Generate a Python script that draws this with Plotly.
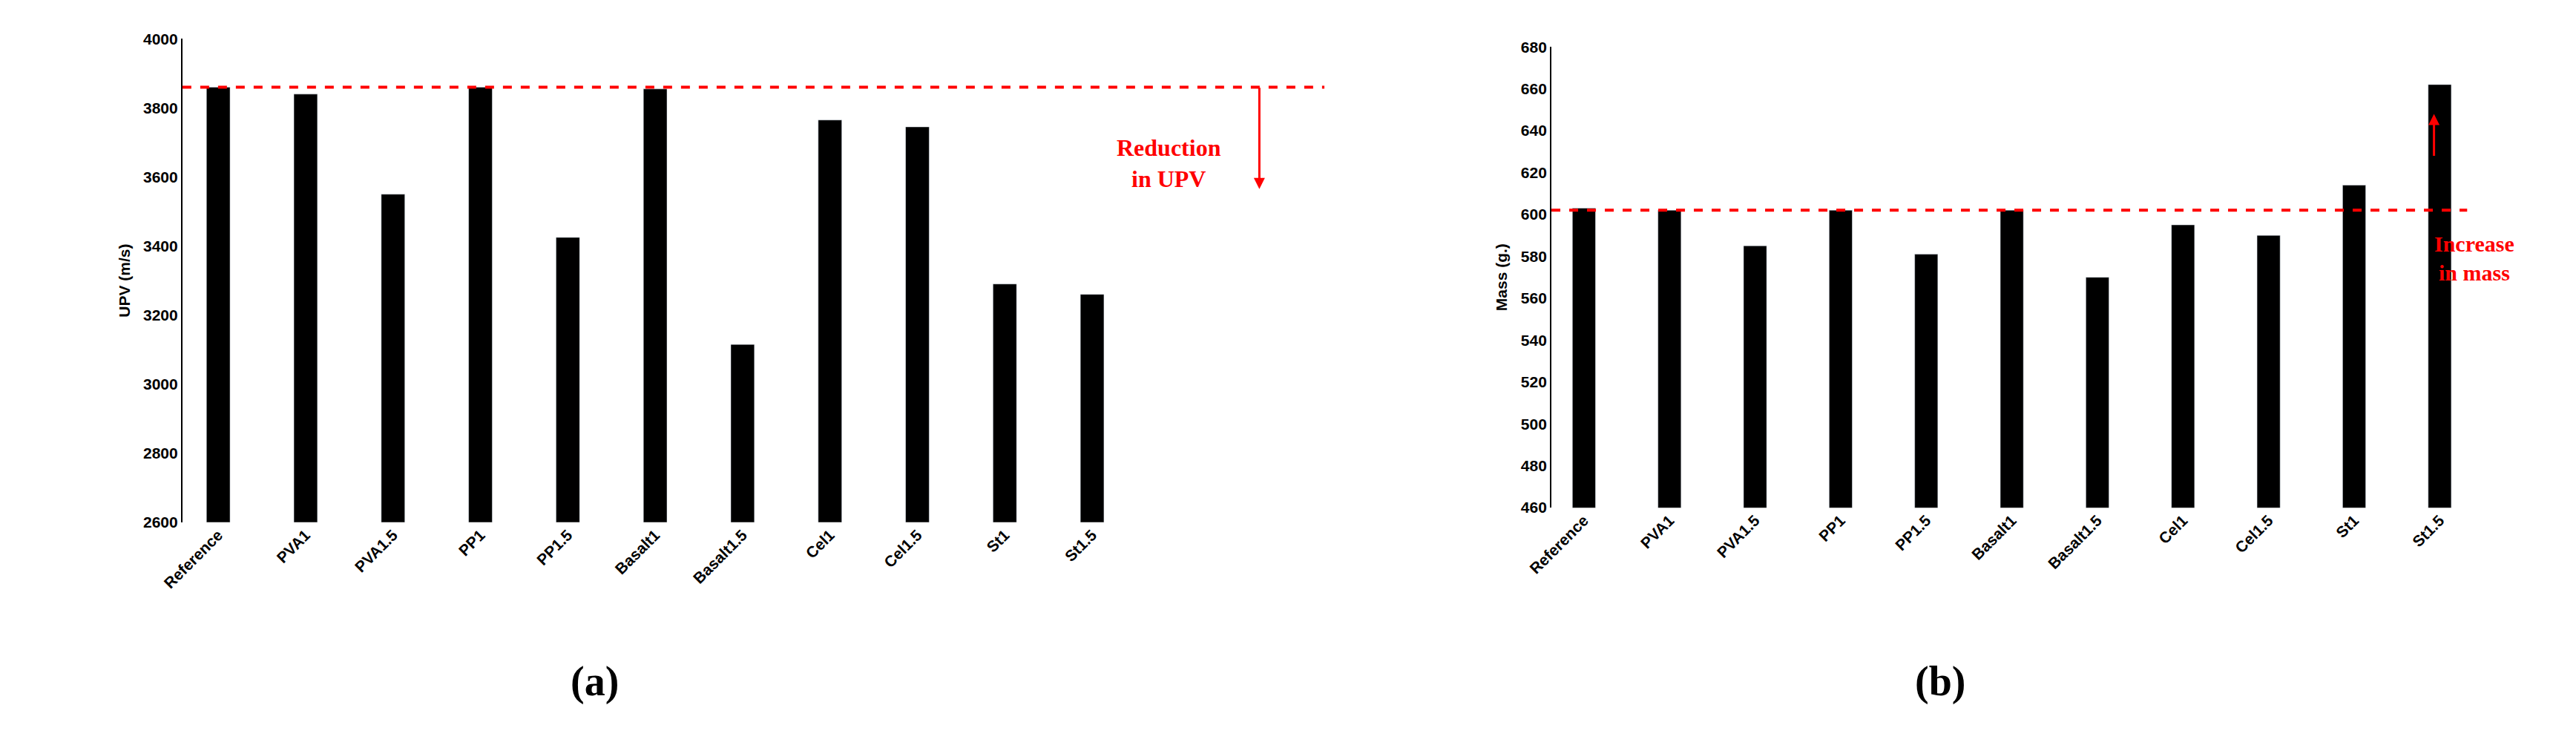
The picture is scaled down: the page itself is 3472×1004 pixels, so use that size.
import plotly.graph_objects as go

cats = ["Reference","PVA1","PVA1.5","PP1","PP1.5","Basalt1","Basalt1.5","Cel1","Cel1.5","St1","St1.5"]
upv = [3860,3840,3550,3860,3425,3855,3115,3765,3745,3290,3260]
mass = [603,602,585,602,581,602,570,595,590,614,662]
upv_ref = 3860
mass_ref = 602

fig = go.Figure()
fig.add_bar(x=cats, y=upv, marker=dict(color="black"), width=0.27, xaxis="x", yaxis="y")
fig.add_bar(x=cats, y=mass, marker=dict(color="black"), width=0.27, xaxis="x2", yaxis="y2")

tickf = dict(family="Liberation Sans", size=21, color="black")
fig.update_layout(
    width=3472, height=1004, margin=dict(l=0, r=0, t=0, b=0),
    plot_bgcolor="white", paper_bgcolor="white", showlegend=False,
    xaxis=dict(domain=[0.0593, 0.430], range=[-0.41, 10.41], tickangle=-45,
               tickfont=tickf, showline=False, ticks=""),
    yaxis=dict(domain=[0.303, 0.967], range=[2600, 4000], dtick=200, showgrid=False,
               showline=True, linecolor="black", linewidth=2, tickfont=tickf,
               title=dict(text="<b>UPV (m/s)</b>", font=tickf, standoff=12)),
    xaxis2=dict(domain=[0.596, 0.957], range=[-0.38, 10.38], tickangle=-45, anchor="y2",
                tickfont=tickf, showline=False, ticks=""),
    yaxis2=dict(domain=[0.323, 0.956], range=[460, 680], dtick=20, showgrid=False, anchor="x2",
                showline=True, linecolor="black", linewidth=2, tickfont=tickf,
                title=dict(text="<b>Mass (g.)</b>", font=tickf, standoff=12)),
)
fig.update_xaxes(tickprefix="<b>", ticksuffix="</b>")
fig.update_yaxes(tickprefix="<b>", ticksuffix="</b>")

fig.add_shape(type="line", xref="paper", yref="y", x0=0.0593, x1=0.507, y0=upv_ref, y1=upv_ref,
              line=dict(color="red", width=4, dash="dash"))
fig.add_shape(type="line", xref="paper", yref="y2", x0=0.596, x1=0.955, y0=mass_ref, y1=mass_ref,
              line=dict(color="red", width=4, dash="dash"))

red = dict(family="Liberation Serif", size=32, color="red")
fig.add_annotation(xref="paper", yref="y", x=0.4815, y=3565, ax=0, ay=-138, axref="pixel", ayref="pixel",
                   showarrow=True, arrowhead=2, arrowsize=1, arrowwidth=3, arrowcolor="red", text="")
fig.add_annotation(xref="paper", yref="y", x=0.446, y=3640, text="<b>Reduction<br>in UPV</b>",
                   showarrow=False, font=red, align="center")
fig.add_annotation(xref="paper", yref="y2", x=0.942, y=648, ax=0, ay=58, axref="pixel", ayref="pixel",
                   showarrow=True, arrowhead=2, arrowsize=1, arrowwidth=3, arrowcolor="red", text="")
fig.add_annotation(xref="paper", yref="y2", x=0.974, y=579, text="<b>Increase<br>in mass</b>",
                   showarrow=False, font=dict(family="Liberation Serif", size=30, color="red"), align="center")

lab = dict(family="Liberation Serif", size=56, color="black")
fig.add_annotation(xref="paper", yref="paper", x=0.211, y=0.05, text="<b>(a)</b>", showarrow=False, font=lab)
fig.add_annotation(xref="paper", yref="paper", x=0.759, y=0.05, text="<b>(b)</b>", showarrow=False, font=lab)

fig.write_html("out.html")
